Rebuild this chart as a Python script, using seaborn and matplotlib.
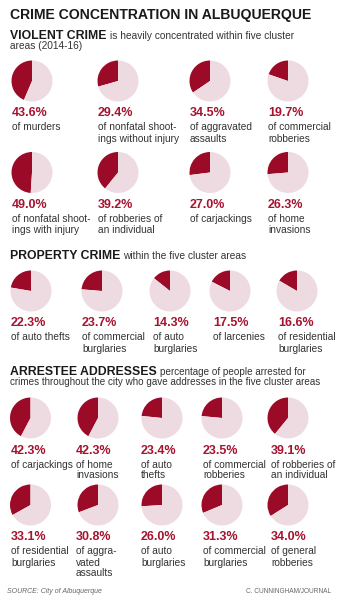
import matplotlib
matplotlib.use("Agg")
import matplotlib.pyplot as plt
import seaborn as sns

# ---------------- data ----------------
violent_values = [43.6, 29.4, 34.5, 19.7, 49.0, 39.2, 27.0, 26.3]
violent_labels = ["of murders", "of nonfatal shoot-\nings without injury",
                  "of aggravated\nassaults", "of commercial\nrobberies",
                  "of nonfatal shoot-\nings with injury", "of robberies of\nan individual",
                  "of carjackings", "of home\ninvasions"]

property_values = [22.3, 23.7, 14.3, 17.5, 16.6]
property_labels = ["of auto thefts", "of commercial\nburglaries", "of auto\nburglaries",
                   "of larcenies", "of residential\nburglaries"]

arrest_values = [42.3, 42.3, 23.4, 23.5, 39.1, 33.1, 30.8, 26.0, 31.3, 34.0]
arrest_labels = ["of carjackings", "of home\ninvasions", "of auto\nthefts",
                 "of commercial\nrobberies", "of robberies of\nan individual",
                 "of residential\nburglaries", "of aggra-\nvated\nassaults", "of auto\nburglaries",
                 "of commercial\nburglaries", "of general\nrobberies"]

title = "CRIME CONCENTRATION IN ALBUQUERQUE"
source = "SOURCE: City of Albuquerque"
credit = "C. CUNNINGHAM/JOURNAL"

# ---------------- style ----------------
sns.set_theme(style="white")
plt.rcParams['font.family'] = ['Liberation Sans', 'DejaVu Sans']
palette = sns.color_palette(["#9B0A26", "#EEDBE1"])
PCT_COLOR = "#A5142F"
TXT_COLOR = "#333333"

W, H = 338, 600
fig = plt.figure(figsize=(W / 100, H / 100), dpi=100)
fig.patch.set_facecolor("white")
bg = fig.add_axes([0, 0, 1, 1])
bg.set_xlim(0, W)
bg.set_ylim(H, 0)
bg.axis("off")

R = 20.5


def pie(cx, cy, value):
    ax = fig.add_axes([(cx - R) / W, 1 - (cy + R) / H, 2 * R / W, 2 * R / H])
    ax.pie([value, 100 - value], colors=palette, startangle=90, counterclock=True,
           wedgeprops=dict(linewidth=0))
    ax.set_xlim(-1, 1)
    ax.set_ylim(-1, 1)
    ax.set_aspect("equal")
    ax.axis("off")


def item(cx, cy, tx, value, label):
    pie(cx, cy, value)
    bg.text(tx, cy + 35.5, f"{value:.1f}%", fontsize=9.0, fontweight="bold",
            color=PCT_COLOR, va="baseline", ha="left")
    for i, line in enumerate(label.split("\n")):
        bg.text(tx, cy + 49.5 + 11 * i, line, fontsize=7.3, color=TXT_COLOR,
                va="baseline", ha="left")


def heading(y, bold, rest, rest2=None, bx=10, size=7.3):
    t = bg.text(bx, y, bold, fontsize=8.8, fontweight="bold", color="#1a1a1a",
                va="baseline", ha="left")
    fig.canvas.draw()
    bb = t.get_window_extent()
    x_end = bb.x1 * W / fig.bbox.width
    bg.text(x_end + 3, y, rest, fontsize=size, color=TXT_COLOR, va="baseline", ha="left")
    if rest2:
        bg.text(bx, y + 10, rest2, fontsize=size, color=TXT_COLOR, va="baseline", ha="left")


# title
bg.text(10, 18.5, title, fontsize=10.1, fontweight="bold", color="#1a1a1a",
        va="baseline", ha="left")

# violent crime
heading(39, "VIOLENT CRIME", "is heavily concentrated within five cluster", "areas (2014-16)")
v_cx = [32, 118, 210, 288]
v_tx = [12, 98, 190, 268]
v_cy = [81, 172.5]
for k, (val, lab) in enumerate(zip(violent_values, violent_labels)):
    r, c = divmod(k, 4)
    item(v_cx[c], v_cy[r], v_tx[c], val, lab)

# property crime
heading(259, "PROPERTY CRIME", "within the five cluster areas")
p_cx = [31, 102, 170, 230, 297]
p_tx = [11, 82, 153, 213, 278]
for c, (val, lab) in enumerate(zip(property_values, property_labels)):
    item(p_cx[c], 291, p_tx[c], val, lab)

# arrestee addresses
heading(375, "ARRESTEE ADDRESSES", "percentage of people arrested for",
        "crimes throughout the city who gave addresses in the five cluster areas", size=7.1)
a_cx = [30.5, 98, 162, 222, 288]
a_tx = [11, 76, 141, 203, 271]
a_cy = [418, 505]
for k, (val, lab) in enumerate(zip(arrest_values, arrest_labels)):
    r, c = divmod(k, 5)
    item(a_cx[c], a_cy[r], a_tx[c], val, lab)

bg.text(7, 593, source, fontsize=5, style="italic", color="#666666",
        va="baseline", ha="left")
bg.text(331, 593, credit, fontsize=4.7, color="#666666", va="baseline", ha="right")

fig.savefig("out.png", dpi=100, facecolor="white")
